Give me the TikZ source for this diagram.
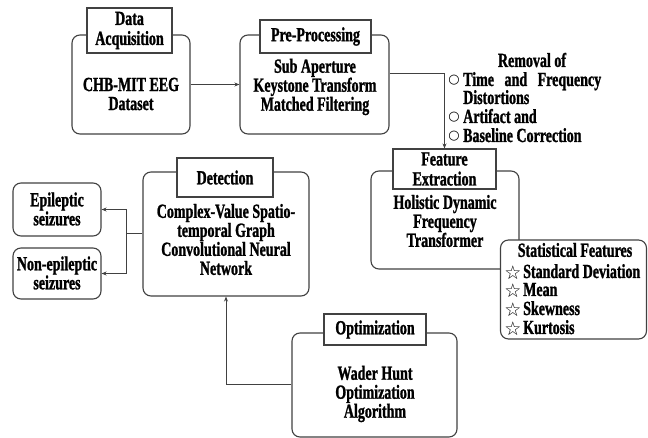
\documentclass[tikz,border=0pt]{standalone}
\usepackage{fontspec}
\setmainfont[FakeStretch=0.7, BoldFeatures={FakeStretch=0.7, FakeBold=1.2}]{Liberation Serif}
\newfontfamily\symfont{DejaVu Sans}
\usetikzlibrary{arrows.meta}
\definecolor{linegray}{RGB}{65,65,65}
\begin{document}
\begin{tikzpicture}[x=1pt,y=-1pt,
 box/.style={draw=linegray, line width=1.1pt, rounded corners=8pt, inner sep=0pt},
 tbox/.style={draw=linegray, line width=1.1pt, fill=white, inner sep=0pt, font=\fontsize{20}{20}\selectfont\bfseries, align=center},
 txt/.style={font=\fontsize{20}{19}\selectfont\bfseries, align=center, inner sep=0pt},
 row/.style={txt, anchor=base west, text height=13pt, text depth=3pt},
 sym/.style={font=\fontsize{13}{13}\selectfont\symfont, inner sep=0pt},
 star/.style={font=\fontsize{19}{19}\selectfont\symfont, inner sep=0pt},
 arr/.style={draw=linegray, line width=1pt, -{Stealth[length=5pt,width=4pt]}},
 ln/.style={draw=linegray, line width=1pt}]
\path[use as bounding box] (0,0) rectangle (648,438);

% Data acquisition
\node[box, minimum width=118pt, minimum height=99pt] (da) at (131,84.5) {};
\node[tbox, minimum width=85pt, minimum height=45pt] (dat) at (129.5,30.5) {Data\\Acquisition};
\node[txt] (dax) at (131,94) {CHB-MIT EEG\\Dataset};

% Pre-processing
\node[box, minimum width=149pt, minimum height=99pt] (pp) at (314.5,84.5) {};
\node[tbox, minimum width=111pt, minimum height=33pt] (ppt) at (315.5,36.5) {Pre-Processing};
\node[txt] (ppx) at (315,87) {Sub Aperture\\Keystone Transform\\Matched Filtering};

% Removal notes
\node[txt] (rm) at (532,60) {Removal of};
\node[sym] (b1) at (454,80) {○};
\node[row] (r1) at (463,86) {\makebox[138pt][s]{Time and Frequency}};
\node[row] (r2) at (463,104) {Distortions};
\node[sym] (b2) at (454,117) {○};
\node[row] (r3) at (463,123) {Artifact and};
\node[sym] (b3) at (454,136) {○};
\node[row] (r4) at (463,142) {Baseline Correction};

% Feature extraction
\node[box, minimum width=148pt, minimum height=98pt] (fe) at (445,220) {};
\node[tbox, minimum width=103pt, minimum height=40pt] (fet) at (444.5,169) {Feature\\Extraction};
\node[txt] (fex) at (445,221) {Holistic Dynamic\\Frequency\\Transformer};

% Statistical features
\node[box, fill=white, minimum width=146pt, minimum height=99pt] (sf) at (573.5,289.5) {};
\node[txt] (sft) at (575,250) {Statistical Features};
\node[star] (s1) at (513,273) {☆};
\node[row] (s1x) at (523,278) {Standard Deviation};
\node[star] (s2) at (513,291) {☆};
\node[row] (s2x) at (523,296) {Mean};
\node[star] (s3) at (513,310) {☆};
\node[row] (s3x) at (523,315) {Skewness};
\node[star] (s4) at (513,329) {☆};
\node[row] (s4x) at (523,334) {Kurtosis};

% Detection
\node[box, minimum width=166pt, minimum height=124pt] (det) at (226,234) {};
\node[tbox, minimum width=96pt, minimum height=39pt] (dett) at (225,177.5) {Detection};
\node[txt] (detx) at (226,239.5) {Complex-Value Spatio-\\temporal Graph\\Convolutional Neural\\Network};

% Outcomes
\node[box, minimum width=88pt, minimum height=53pt] (ep) at (57,209.5) {};
\node[txt] (epx) at (57,209) {Epileptic\\seizures};
\node[box, minimum width=88pt, minimum height=51pt] (nep) at (57,273.5) {};
\node[txt] (nepx) at (57,273) {Non-epileptic\\seizures};

% Optimization
\node[box, minimum width=165pt, minimum height=104pt] (opt) at (374.5,385) {};
\node[tbox, minimum width=102pt, minimum height=31pt] (optt) at (375,329.5) {Optimization};
\node[txt] (optx) at (375,394) {Wader Hunt\\Optimization\\Algorithm};

% Connectors
\draw[arr] (da.east) -- (pp.west);
\coordinate (c1) at (444.5,74);
\draw[arr] (pp.east |- c1) -- (c1) -- (fet.north);
\coordinate (j) at (126,234);
\draw[ln] (det.west |- j) -- (j);
\draw[arr] (j) |- (ep.east);
\draw[arr] (j) |- (nep.east);
\coordinate (c2) at (226,384);
\draw[arr] (opt.west |- c2) -- (c2) -- (det.south);
\end{tikzpicture}
\end{document}
